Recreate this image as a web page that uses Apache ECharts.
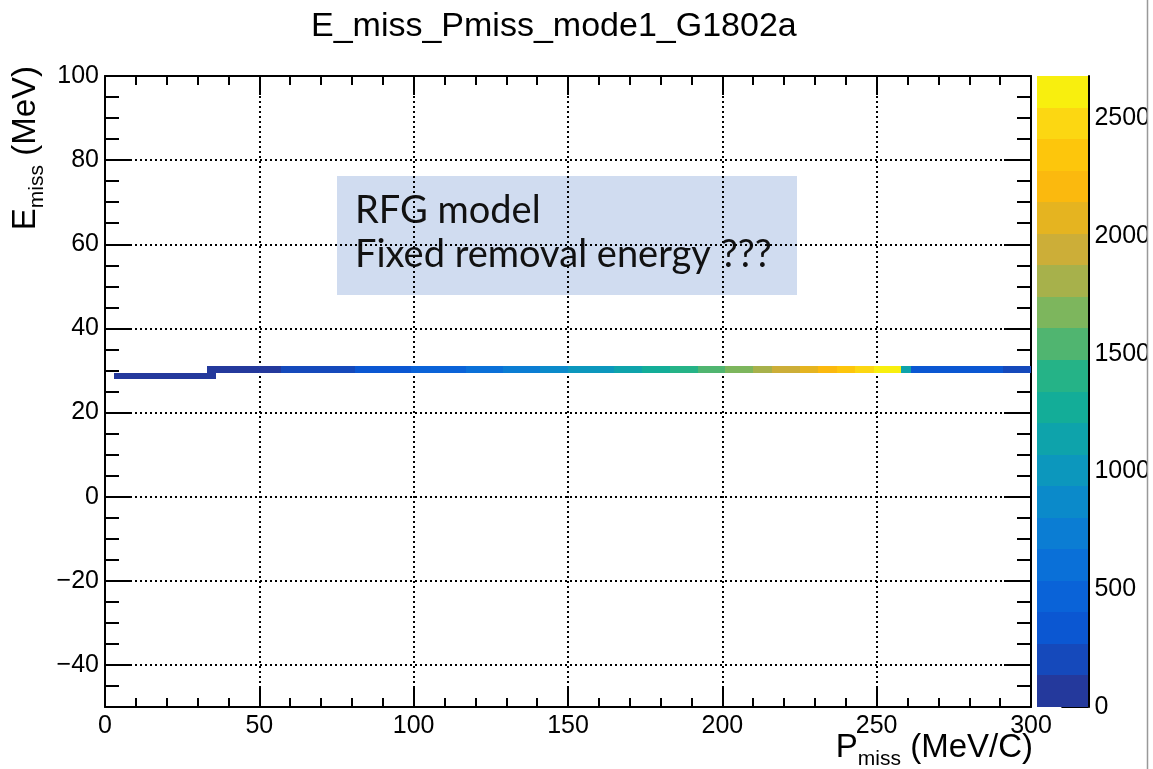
<!DOCTYPE html>
<html><head><meta charset="utf-8">
<script src="https://cdn.jsdelivr.net/npm/echarts@6/dist/echarts.min.js"></script>
<style>html,body{margin:0;padding:0;background:#fff}#c{width:1153px;height:769px}</style>
</head><body><div id="c"></div>
<script>
// ---------------- data ----------------
const titleText = 'E_miss_Pmiss_mode1_G1802a';
const binWidth = 3;                 // MeV/c per x bin
const upperRowE = [29.5, 31];       // MeV
const upperStartP = 33;             // MeV/c, low edge of first bin
const upperCounts = [
  45, 52, 60, 70, 80, 92, 104, 118,
  140, 150, 162, 176, 190, 206, 224, 244,
  272, 290, 306, 326, 346, 370,
  402, 420, 442, 466, 492, 520,
  545, 575, 605, 635,
  675, 700, 728, 760,
  808, 840, 872,
  945, 975, 1000, 1030, 1060,
  1085, 1120, 1160,
  1215, 1250, 1300,
  1345, 1390, 1430,
  1480, 1525, 1570,
  1620, 1660, 1710,
  1755, 1810,
  1880, 1935, 1985,
  2030, 2090,
  2150, 2220,
  2290, 2360,
  2430, 2500,
  2570, 2620, 2665,
  1100,
  390, 380, 372, 362, 355, 345, 338, 330, 320, 312,
  200, 180, 150
];
const lowerRowE = [28, 29.5];
const lowerStartP = 3;
const lowerCounts = [30, 35, 40, 45, 50, 55, 60, 66, 72, 80, 88];
const zMax = 2680;
const nLevels = 20;
const palette = ['#24399c','#1549bb','#0b57d2','#0a63d8','#0a70d8','#0b7dd3','#0b8aca','#0c97bd','#0ea3ab','#13ad98',
                 '#25b387','#50b570','#7db65d','#a7b14b','#ccae38','#e5b420','#fbb90e','#fdc60c','#fcd712','#f8ef0e'];
const xRange = [0, 300];
const yRange = [-50, 100];
const zTickValues = [0, 500, 1000, 1500, 2000, 2500];
const noteLines = ['RFG model', 'Fixed removal energy ???'];

// ---------------- build ----------------
const cells = [];
upperCounts.forEach((c, i) => { const x0 = upperStartP + i * binWidth; cells.push([x0, x0 + binWidth, upperRowE[0], upperRowE[1], c]); });
lowerCounts.forEach((c, i) => { const x0 = lowerStartP + i * binWidth; cells.push([x0, x0 + binWidth, lowerRowE[0], lowerRowE[1], c]); });
const step = zMax / nLevels;
const levels = palette.map((c, i) => [0, 1, i * step, (i + 1) * step, (i + 0.5) * step]);
const pieces = palette.map((c, i) => i === nLevels - 1 ? {gte: i * step, lte: zMax, color: c} : {gte: i * step, lt: (i + 1) * step, color: c});

const FONT = 'Liberation Sans';
const black = '#000';
const minus = v => v < 0 ? '\u2212' + (-v) : String(v);

function renderRect(params, api) {
  const p0 = api.coord([api.value(0), api.value(3)]);
  const p1 = api.coord([api.value(1), api.value(2)]);
  const x = Math.round(p0[0]), y = Math.round(p0[1]);
  return {type: 'rect', shape: {x: x, y: y, width: Math.round(p1[0]) - x, height: Math.round(p1[1]) - y},
          style: {fill: api.visual('color'), stroke: null}};
}

const lineSt = {color: black, width: 2};
const gridLine = {show: true, lineStyle: {color: black, type: [2, 3], width: 2}};

const xMain = (pos, labels, split) => ({
  gridIndex: 0, type: 'value', position: pos, min: xRange[0], max: xRange[1], interval: 50,
  axisLine: {show: true, onZero: false, lineStyle: lineSt},
  axisTick: {show: true, inside: true, length: 19, lineStyle: lineSt},
  minorTick: {show: true, splitNumber: 5, length: 9, lineStyle: lineSt},
  axisLabel: {show: labels, fontSize: 25, color: black, fontFamily: FONT, margin: 7},
  splitLine: split ? gridLine : {show: false}
});
const yMain = (pos, labels, split) => ({
  gridIndex: 0, type: 'value', position: pos, min: yRange[0], max: yRange[1], splitNumber: 8,
  axisLine: {show: true, onZero: false, lineStyle: lineSt},
  axisTick: {show: true, inside: true, length: 27, lineStyle: lineSt},
  axisLabel: {show: labels, showMinLabel: false, formatter: minus, fontSize: 25, color: black, fontFamily: FONT, margin: 6},
  splitLine: split ? gridLine : {show: false}
});
const yMinor = (pos) => ({
  gridIndex: 0, type: 'value', position: pos, min: yRange[0], max: yRange[1], interval: 5,
  axisLine: {show: false, onZero: false}, axisTick: {show: true, inside: true, length: 14, lineStyle: lineSt},
  axisLabel: {show: false}, splitLine: {show: false}
});

const chart = echarts.init(document.getElementById('c'), null, {renderer: 'canvas'});
chart.setOption({
  backgroundColor: '#fff',
  animation: false,
  title: {text: titleText, left: 306, top: 5, textStyle: {fontSize: 34, fontWeight: 'normal', fontFamily: FONT, color: black}},
  grid: [
    {left: 105, top: 76, width: 926, height: 631, containLabel: false},
    {left: 1037, top: 76, width: 52, height: 631, containLabel: false}
  ],
  xAxis: [
    xMain('bottom', true, true),
    xMain('top', false, false),
    {gridIndex: 1, type: 'value', min: 0, max: 1, show: false}
  ],
  yAxis: [
    yMain('left', true, true),
    yMinor('left'),
    yMain('right', false, false),
    yMinor('right'),
    {gridIndex: 1, type: 'value', position: 'right', min: 0, max: zMax,
     axisLine: {show: true, onZero: false, lineStyle: lineSt},
     axisTick: {show: true, inside: true, length: 27, customValues: zTickValues, lineStyle: lineSt},
     axisLabel: {show: true, customValues: zTickValues, formatter: v => String(v), fontSize: 25, color: black, fontFamily: FONT, margin: 6},
     splitLine: {show: false}}
  ],
  visualMap: {type: 'piecewise', show: false, dimension: 4, seriesIndex: [0, 1], pieces: pieces},
  series: [
    {type: 'custom', xAxisIndex: 0, yAxisIndex: 0, renderItem: renderRect, data: cells,
     encode: {x: [0, 1], y: [2, 3]}, z: 3},
    {type: 'custom', xAxisIndex: 2, yAxisIndex: 4, renderItem: renderRect, data: levels,
     encode: {x: [0, 1], y: [2, 3]}}
  ],
  graphic: [
    {type: 'rect', z: -1, shape: {x: 337, y: 176, width: 460, height: 119}, style: {fill: '#d0dcf0'}},
    {type: 'text', z: -1, style: {text: noteLines[0], x: 355, y: 211, font: '38px Lato', fill: '#111', verticalAlign: 'middle'}},
    {type: 'text', z: -1, style: {text: noteLines[1], x: 355, y: 255, font: '38px Lato', fill: '#111', verticalAlign: 'middle'}},
    {type: 'text', z: 10, style: {
      text: '{a|P}{b|miss}{a| (MeV/C)}', x: 1033, y: 748, align: 'right', verticalAlign: 'middle', fill: black,
      rich: {a: {fontSize: 33, fontFamily: FONT, lineHeight: 44, verticalAlign: 'middle', fill: black},
             b: {fontSize: 21, fontFamily: FONT, lineHeight: 44, verticalAlign: 'bottom', fill: black}}}},
    {type: 'text', z: 10, rotation: Math.PI / 2, x: 26, y: 66, style: {
      text: '{a|E}{b|miss}{a| (MeV)}', x: 0, y: 0, align: 'right', verticalAlign: 'middle', fill: black,
      rich: {a: {fontSize: 33, fontFamily: FONT, lineHeight: 44, verticalAlign: 'middle', fill: black},
             b: {fontSize: 21, fontFamily: FONT, lineHeight: 44, verticalAlign: 'bottom', fill: black}}}},
    {type: 'rect', z: 50, shape: {x: 1147, y: 0, width: 6, height: 769}, style: {fill: '#fff'}},
    {type: 'line', z: 51, shape: {x1: 1147.5, y1: 0, x2: 1147.5, y2: 769}, style: {stroke: '#999', lineWidth: 1.5}}
  ]
});
</script>
</body></html>
